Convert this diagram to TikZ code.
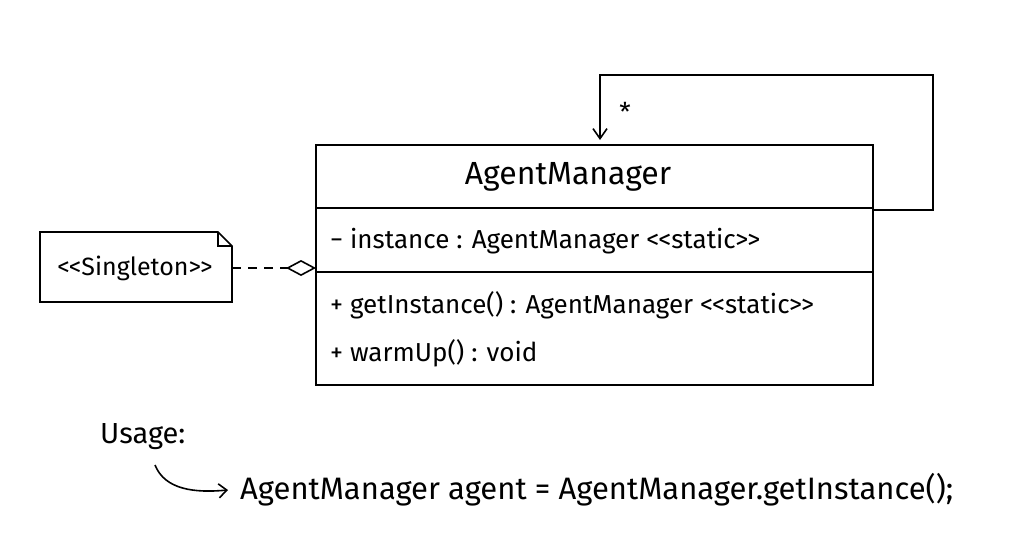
\documentclass[tikz,border=0pt]{standalone}
\usepackage{fontspec}
\setmainfont{Fira Sans}
\usetikzlibrary{arrows.meta}
\newcommand{\stl}{{<}\kern-1pt{<}}
\newcommand{\stg}{{>}\kern-1pt{>}}
\begin{document}
\begin{tikzpicture}[x=1pt,y=-1pt,
  ln/.style={line width=1.6pt,black},
  txt/.style={inner sep=0pt,anchor=west,font=\fontsize{26}{28}\selectfont}]
\useasboundingbox[fill=white] (0,0) rectangle (1024,559);
% class box
\draw[ln] (316,145) rectangle (873,385);
\draw[ln] (316,208) -- (873,208);
\draw[ln] (316,272) -- (873,272);
\node[inner sep=0pt,font=\fontsize{32}{34}\selectfont] (title) at (568,177) {AgentManager};
\node[txt] (attr) at (330,241) {− instance : AgentManager \stl static\stg};
\node[txt] (op1) at (330,305) {+ getInstance() : AgentManager \stl static\stg};
\node[txt] (op2) at (330,353) {+ warmUp() : void};
\coordinate (cls) at (873,210);
\coordinate (clt) at (600,140);
% self loop
\draw[ln,-{Straight Barb[length=10pt,width=14pt]}] (cls) -- (933,210) -- (933,75) -- (600,75) -- (clt);
\node[inner sep=0pt,font=\fontsize{26}{28}\selectfont] (star) at (625,112) {*};
% note
\draw[ln] (40,232) -- (218,232) -- (232,246) -- (232,302) -- (40,302) -- cycle;
\draw[ln] (218,232) -- (218,246) -- (232,246);
\node[inner sep=0pt,font=\fontsize{25}{28}\selectfont] (sing) at (135,268) {\stl Singleton\stg};
\coordinate (noteR) at (232,268);
\coordinate (clsL) at (316,268);
\draw[ln,dashed,dash pattern=on 9pt off 7pt,-{Diamond[open,length=30pt,width=16pt]}] (noteR) -- (clsL);
% usage
\node[inner sep=0pt,anchor=west,font=\fontsize{29}{30}\selectfont] (usage) at (100,437) {Usage:};
\node[inner sep=0pt,anchor=west,font=\fontsize{31}{34}\selectfont] (code) at (240,490) {AgentManager agent = AgentManager.getInstance();};
\draw[ln,-{Straight Barb[length=8pt,width=14pt]}] (155,465) .. controls (165,490) and (195,493) .. ([xshift=-12pt]code.west);
\end{tikzpicture}
\end{document}
